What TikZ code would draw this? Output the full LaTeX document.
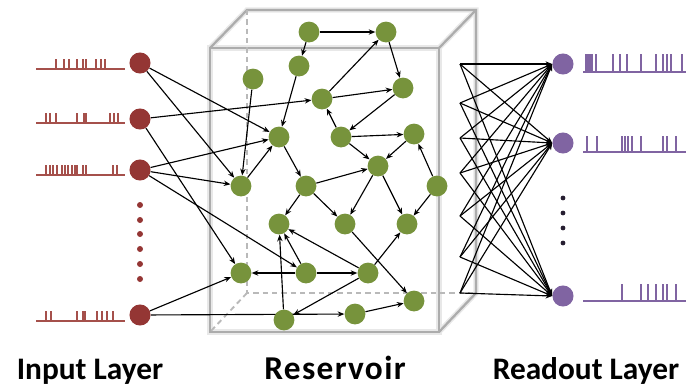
\documentclass[tikz,border=0pt]{standalone}
\usepackage{fontspec}
\setmainfont{Carlito}
\usetikzlibrary{arrows.meta,backgrounds}
\definecolor{inred}{HTML}{943634}
\definecolor{spikered}{HTML}{A5504B}
\definecolor{resgreen}{HTML}{77933C}
\definecolor{outpurple}{HTML}{8064A2}
\tikzset{
  innode/.style={circle,fill=inred,minimum size=15.8pt,inner sep=0pt},
  resnode/.style={circle,fill=resgreen,minimum size=15.6pt,inner sep=0pt},
  outnode/.style={circle,fill=outpurple,minimum size=15.8pt,inner sep=0pt},
  link/.style={draw=black,line width=0.85pt,-{Stealth[length=5pt,width=4pt]}},
  edgeline/.style={draw=gray!65,line width=1.7pt},
  edgehalo/.style={draw=gray!18,line width=4pt},
  hidden/.style={draw=gray!55,line width=1.4pt,dash pattern=on 4pt off 3pt},
  inspike/.style={draw=spikered,line width=0.8pt},
  outspike/.style={draw=outpurple,line width=0.8pt},
  layerlabel/.style={font=\bfseries\fontsize{23.5}{28}\selectfont,anchor=base}
}
% one spike train: base line from x1 to x2 at y, spikes of given top
\newcommand{\spiketrain}[6]{%
  \draw[#1] (#2,#4) -- (#3,#4);
  \foreach \sx in {#6} \draw[#1] (\sx,#4) -- (\sx,#5);
}
\begin{document}
\begin{tikzpicture}[x=0.75pt,y=-0.75pt]
\useasboundingbox (0,0) rectangle (686,387);

% reservoir neurons
\node[resnode] (A) at (309,32) {};
\node[resnode] (B) at (386,32) {};
\node[resnode] (C) at (299,66) {};
\node[resnode] (D) at (253,79) {};
\node[resnode] (E) at (403,88) {};
\node[resnode] (F) at (322,99) {};
\node[resnode] (G) at (279,137) {};
\node[resnode] (H) at (341,137) {};
\node[resnode] (I) at (414,134) {};
\node[resnode] (J) at (378,166) {};
\node[resnode] (K) at (241,186) {};
\node[resnode] (L) at (306,186) {};
\node[resnode] (M) at (437,186) {};
\node[resnode] (N) at (279,224) {};
\node[resnode] (O) at (345,224) {};
\node[resnode] (P) at (407,224) {};
\node[resnode] (Q) at (241,273) {};
\node[resnode] (R) at (306,273) {};
\node[resnode] (S) at (368,273) {};
\node[resnode] (T) at (414,301) {};
\node[resnode] (U) at (355,314) {};
\node[resnode] (V) at (284,320) {};

% input neurons
\node[innode] (in1) at (140,63) {};
\node[innode] (in2) at (140,119) {};
\node[innode] (in3) at (140,170) {};
\node[innode] (in4) at (140,315) {};
\foreach \dy [count=\i] in {205,220,234,249,264,279}
  \node[circle,fill=inred,minimum size=4.5pt,inner sep=0pt] (indot\i) at (140,\dy) {};

% readout neurons
\node[outnode] (out1) at (563,64) {};
\node[outnode] (out2) at (563,143) {};
\node[outnode] (out3) at (563,296) {};
\foreach \dy [count=\i] in {198,213,228,243}
  \node[circle,fill=black!70!outpurple,minimum size=3.6pt,inner sep=0pt] (outdot\i) at (563,\dy) {};

% taps on the right side of the reservoir
\foreach \ty [count=\i] in {64,103,138,173,216,257,293}
  \coordinate (tap\i) at (460,\ty);

\begin{scope}[on background layer]
  % reservoir box
  \foreach \st in {edgehalo,edgeline}{
    \draw[\st] (210,48) rectangle (439,332);
    \draw[\st] (210,48) -- (247,10) -- (476,10) -- (476,293);
    \draw[\st] (439,48) -- (476,10);
    \draw[\st] (439,332) -- (476,293);
  }
  \draw[hidden] (247,10) -- (247,293) -- (476,293);
  \draw[hidden] (247,293) -- (210,332);

  % recurrent connections
  \foreach \a/\b in {A/B,A/C,B/E,F/B,F/E,E/H,H/F,C/G,D/K,K/G,G/L,L/N,L/O,L/J,
                     H/I,H/J,I/J,M/I,M/P,J/O,J/P,V/N,R/N,S/N,R/Q,R/S,S/P,S/V,O/T,U/T}
    \path[link] (\a) -- (\b);

  % input connections
  \foreach \a/\b in {in1/G,in1/K,in2/F,in2/Q,in3/G,in3/K,in3/R,in4/Q,in4/U}
    \path[link] (\a) -- (\b);

  % readout connections, all meeting at the left point of each readout neuron
  \foreach \t in {1,...,7}
    \foreach \o in {1,2,3}
      \path[link] (tap\t) -- (out\o.west);
\end{scope}

% input spike trains
\spiketrain{inspike}{36}{125}{69}{59}{56,64,69,77,83,86,96,101,105}
\spiketrain{inspike}{36}{125}{123}{113}{46,50,56,77,84,86,110,114,118}
\spiketrain{inspike}{36}{125}{175}{165}{46,50,53,57,62,65,68,72,75,77,83,86,113,117}
\spiketrain{inspike}{36}{125}{321}{311}{46,51,77,83,85,97,102,107,113}

% readout spike trains
\spiketrain{outspike}{583}{686}{72}{54}{586,588,590,592,596,613,620,627,641,656,663,667,671,682}
\spiketrain{outspike}{583}{686}{152}{136}{587,597,622,625,628,632,641,663,667,676}
\spiketrain{outspike}{583}{686}{301}{284}{622,641,648,656,663,667,676}

% layer labels
\node[layerlabel] (lblin) at (90,379) {Input Layer};
\node[layerlabel,font=\bfseries\fontsize{25}{28}\selectfont\addfontfeature{LetterSpace=4}] (lblres) at (335,379) {Reservoir};
\node[layerlabel] (lblout) at (586,379) {Readout Layer};
\end{tikzpicture}
\end{document}
